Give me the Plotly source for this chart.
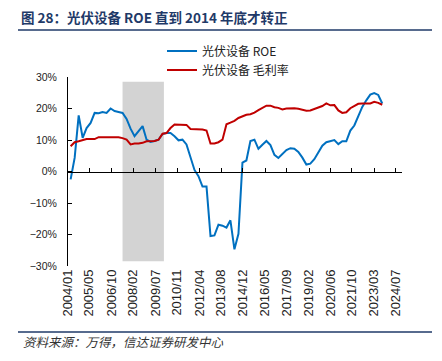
import pandas as pd
import plotly.graph_objects as go

# ---------------- data (quarterly, from 2004-03) ----------------
roe = [-2.5, 4.3, 17.8, 10.7, 13.8, 15.4, 18.6, 18.5, 18.9, 18.6,
       20.0, 19.2, 18.9, 18.6, 16.7, 13.6, 11.2, 12.8, 14.4, 10.1,
       9.4, 9.7, 10.1, 11.9, 12.2, 12.2, 11.2, 9.9, 10.1, 8.6,
       4.8, 0.5, -1.5, -4.8, -4.8, -20.5, -20.3, -16.9, -17.2, -17.8,
       -15.5, -24.7, -19.8, 2.8, 3.5, 9.7, 10.1, 7.2, 8.5, 9.7,
       8.4, 5.3, 4.3, 5.4, 6.8, 7.4, 7.2, 6.2, 4.4, 2.2,
       2.5, 3.9, 6.0, 8.2, 9.3, 9.6, 10.0, 8.7, 9.6, 9.6,
       13.0, 14.6, 17.6, 20.5, 22.6, 24.4, 24.9, 24.3, 21.6]

gross_margin = [8.0, 9.3, 9.6, 9.9, 10.3, 10.3, 10.3, 10.9, 10.9, 10.7,
                10.9, 10.7, 10.9, 10.6, 10.1, 8.6, 8.9, 8.9, 9.1, 9.6,
                9.6, 9.7, 10.1, 12.0, 12.2, 13.8, 14.9, 14.9, 14.9, 14.8,
                13.5, 13.5, 13.3, 13.3, 13.0, 8.9, 8.9, 9.3, 10.1, 15.0,
                15.5, 16.1, 17.0, 17.6, 18.0, 18.2, 18.7, 19.5, 20.2, 20.9,
                20.9, 20.4, 20.2, 19.7, 20.0, 20.1, 20.1, 19.9, 19.6, 19.3,
                19.4, 19.9, 20.4, 20.8, 21.6, 21.0, 21.1, 19.4, 18.6, 18.8,
                20.1, 20.9, 21.5, 21.6, 21.6, 21.6, 22.1, 21.8, 21.2]

dates = pd.date_range(start="2004-03-01", periods=len(roe), freq="3MS")

tick_labels = ["2004/01", "2005/05", "2006/10", "2008/02", "2009/07", "2010/11",
               "2012/04", "2013/08", "2014/12", "2016/05", "2017/09", "2019/02",
               "2020/06", "2021/10", "2023/03", "2024/07"]
tick_vals = [t.replace("/", "-") + "-01" for t in tick_labels]

shade_start = "2007-06-01"
shade_end = "2010-01-01"
shade_low, shade_high = -28.5, 28.5

x_range = ["2004-01-01", "2024-11-25"]

NAVY = "#1F3A68"
BLUE = "#0070C0"
RED = "#C00000"
CJK = "Noto Sans CJK SC"
LATIN = "Liberation Sans, Arial"

fig = go.Figure()

fig.add_trace(go.Scatter(x=dates, y=roe, mode="lines", name="光伏设备 ROE",
                         line=dict(color=BLUE, width=2)))
fig.add_trace(go.Scatter(x=dates, y=gross_margin, mode="lines", name="光伏设备 毛利率",
                         line=dict(color=RED, width=2)))
# dummy trace to carry the zero-line axis
fig.add_trace(go.Scatter(x=[x_range[0]], y=[None], xaxis="x2", showlegend=False,
                         hoverinfo="skip", mode="lines"))

fig.add_shape(type="rect", xref="x", yref="y", x0=shade_start, x1=shade_end,
              y0=shade_low, y1=shade_high, fillcolor="#D3D3D3", line_width=0,
              layer="below")

# page body has an 8px margin: design in window pixels, then shift
OFF = 8
WIN_W, WIN_H = 442, 361
W, H = WIN_W - OFF, WIN_H - OFF
PL, PR, PT, PB = 68, 402, 77, 266  # plot area in window pixels
L, T = PL - OFF, PT - OFF
R = W - (PR - OFF)
B = H - (PB - OFF)
pw, ph = PR - PL, PB - PT


def px_x(px):
    return (px - PL) / pw


def px_y(py):
    return (PB - py) / ph


# title underline and footer line
for yy in (30, 332):
    fig.add_shape(type="line", xref="paper", yref="paper",
                  x0=px_x(18), x1=px_x(432), y0=px_y(yy), y1=px_y(yy),
                  line=dict(color=NAVY, width=1.5))

fig.add_annotation(text="<b>图 28：光伏设备 ROE 直到 2014 年底才转正</b>",
                   xref="paper", yref="paper", x=px_x(19), y=px_y(17),
                   xanchor="left", yanchor="middle", showarrow=False,
                   font=dict(family=CJK, size=13.5, color=NAVY))

fig.add_annotation(text="<i>资料来源：万得，信达证券研发中心</i>",
                   xref="paper", yref="paper", x=px_x(21), y=px_y(341),
                   xanchor="left", yanchor="middle", showarrow=False,
                   font=dict(family=CJK, size=12.5, color="#333333"))

fig.update_layout(
    width=W, height=H,
    margin=dict(l=L, r=R, t=T, b=B, autoexpand=False),
    paper_bgcolor="white", plot_bgcolor="white",
    showlegend=True,
    legend=dict(x=px_x(162), y=px_y(36.5), xanchor="left", yanchor="top",
                bgcolor="rgba(0,0,0,0)", font=dict(family=CJK, size=12, color="#222222"),
                tracegroupgap=0, itemwidth=30),
    xaxis=dict(type="date", range=x_range, tickvals=tick_vals, ticktext=tick_labels,
               tickangle=-90, showline=False, ticks="", showgrid=False, zeroline=False,
               tickfont=dict(family=LATIN, size=13, color="#222222")),
    xaxis2=dict(type="date", range=x_range, overlaying="x", anchor="free", position=0.5,
                side="bottom", tickvals=tick_vals, showticklabels=False, ticks="inside",
                ticklen=4, tickcolor="black", showline=True, linecolor="black",
                linewidth=1, showgrid=False, zeroline=False),
    yaxis=dict(range=[-30, 30], dtick=10, ticksuffix="%", ticks="inside", ticklen=4,
               tickcolor="black", showline=True, linecolor="black", linewidth=1,
               showgrid=False, zeroline=False, ticklabelstandoff=8,
               tickfont=dict(family=LATIN, size=10.5, color="#222222")),
)

fig.write_html("out.html")
